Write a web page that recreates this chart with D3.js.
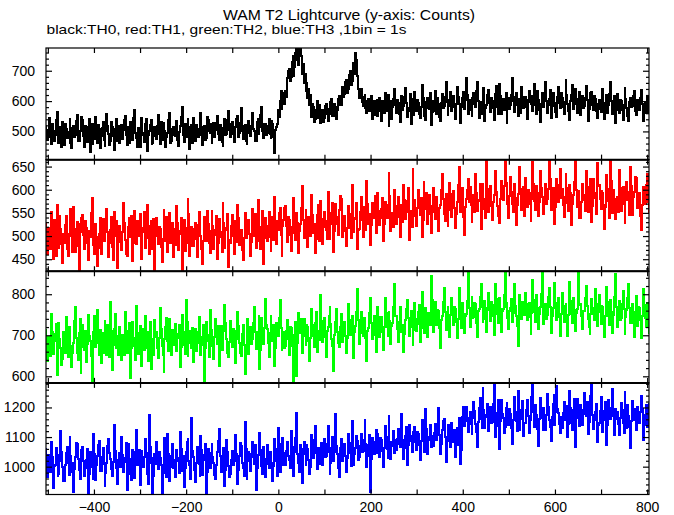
<!DOCTYPE html>
<html><head><meta charset="utf-8">
<script src="https://cdn.jsdelivr.net/npm/d3@7"></script>
<style>body{margin:0;background:#fff}svg{display:block}</style>
</head><body><svg id="c" width="674" height="515"></svg>
<script>
const titleText = "WAM T2 Lightcurve (y-axis: Counts)";
const subtitleText = "black:TH0, red:TH1, green:TH2, blue:TH3 ,1bin = 1s";
const timeStart = -504;
const binWidth = 2;
const xDomain = [-504, 804];
const xLabelTicks = [-400, -200, 0, 200, 400, 600, 800];
const xMinorStep = 100;

const th0 = [
519,488,471,506,544,480,457,523,503,470,487,538,565,495,463,515,498,450,531,485,
456,523,507,477,478,499,542,461,446,512,517,482,489,534,554,470,468,502,500,549,
536,486,449,517,496,465,514,540,431,491,525,459,476,508,549,475,462,521,507,445,
484,510,530,471,451,500,559,519,491,456,467,531,514,485,440,507,541,467,498,517,
461,499,520,476,504,536,552,489,455,515,486,462,532,506,471,545,571,494,479,450,
510,479,450,526,545,496,488,465,523,542,436,489,500,520,537,457,463,505,516,484,
475,518,555,493,459,531,506,472,528,501,447,482,496,539,560,461,469,508,513,487,
485,510,533,473,453,498,517,547,580,488,464,526,502,480,540,515,442,495,522,463,
545,504,470,522,508,483,487,535,561,496,456,515,518,472,479,547,538,501,494,526,
461,508,527,483,504,529,552,493,473,520,511,466,452,503,541,487,493,538,567,506,
483,523,532,493,464,510,513,541,552,481,495,528,577,503,474,518,520,469,457,502,
535,495,485,519,561,509,502,470,467,530,542,492,514,555,582,503,477,526,524,488,
495,517,541,492,479,533,526,482,430,506,514,523,570,548,600,632,575,612,625,590,
632,612,675,700,705,665,680,728,748,682,712,758,772,735,720,790,780,748,690,722,
660,690,632,660,610,640,588,620,548,590,580,530,540,572,600,545,560,588,528,566,
571,531,544,583,592,557,534,575,559,597,608,551,550,589,582,540,569,606,618,586,
615,588,645,615,622,662,668,628,640,685,698,652,665,712,725,688,758,735,682,640,
609,631,641,596,584,613,619,578,560,601,606,566,577,617,542,589,599,553,569,605,
552,590,611,568,534,600,593,561,628,584,568,619,519,577,601,541,579,608,640,587,
562,603,594,556,530,582,617,572,583,612,643,593,549,566,576,624,526,586,607,555,
631,591,566,604,593,559,545,580,652,611,584,551,538,597,611,576,575,626,521,565,
599,566,634,587,559,611,590,546,534,595,622,577,583,615,662,598,555,585,602,629,
567,600,616,579,542,592,647,612,591,560,529,581,610,631,574,605,677,620,558,589,
603,571,551,610,627,590,580,634,662,600,545,583,596,558,618,643,533,576,587,621,
636,595,563,610,599,578,539,587,622,651,582,556,655,616,557,591,606,571,574,626,
527,582,609,575,588,621,676,600,564,613,628,588,551,606,597,562,645,614,576,596,
615,580,542,603,633,596,589,618,568,587,656,607,556,632,604,572,531,591,625,584,
580,611,662,599,562,588,608,637,545,584,627,602,595,563,546,615,647,594,576,626,
610,579,558,597,668,619,589,566,537,600,621,652,573,590,639,607,562,586,601,631,
553,593,618,577,584,611,650,602,534,574,600,626,629,586,569,618,607,566,544,590,
603,574,565,610,640,593,540,581,619,561,588,623,662,600,558,589,592,616,529,571,
624,591,562,603,600,570,537,587,643,608,577,551,533,598,611,580,584,618,633,566,
553,583,604,574,571,610,635,592,533,572,593,562,614,589,562];

const th1 = [
528,492,462,517,508,471,552,500,450,535,493,456,567,512,474,543,515,482,442,504,
485,524,543,473,457,505,521,558,501,465,562,516,466,496,531,479,419,527,509,539,
546,502,471,533,517,486,448,511,498,550,582,520,481,461,527,497,436,475,505,540,
461,513,536,490,489,524,559,508,455,485,513,542,477,448,551,517,501,533,431,494,
521,488,470,509,571,529,492,461,458,520,539,497,508,544,446,485,555,515,482,532,
500,528,547,484,451,508,517,552,475,496,566,521,461,489,532,473,494,536,423,506,
539,500,482,519,515,477,443,493,556,525,490,542,465,509,550,485,505,529,454,497,
516,481,565,528,469,511,504,540,417,492,535,467,486,517,579,547,458,502,520,478,
478,515,529,493,455,523,551,504,500,471,440,489,542,525,489,555,525,484,463,511,
555,521,471,503,513,543,451,486,536,509,497,466,572,528,475,513,517,548,433,491,
484,521,545,500,461,533,525,488,568,539,480,511,512,469,449,495,550,519,496,535,
535,504,456,487,558,523,500,547,474,512,577,529,489,471,520,554,440,496,540,514,
490,522,552,499,467,541,528,492,584,515,482,532,513,550,560,503,456,521,534,561,
564,522,488,541,534,503,468,519,583,552,506,491,549,529,463,510,525,560,608,534,
496,531,557,513,477,542,536,500,588,546,506,525,463,494,546,568,518,490,575,537,
483,519,552,533,513,494,595,550,493,527,536,571,465,510,570,541,525,502,556,586,
581,543,498,528,544,510,479,517,564,548,518,496,610,558,508,537,539,572,473,514,
515,553,584,534,499,562,552,514,618,569,527,547,481,523,572,539,542,587,507,530,
592,554,523,539,558,583,489,526,574,549,538,568,637,587,510,543,549,520,600,565,
526,560,585,542,498,568,563,530,610,577,537,553,575,603,491,538,554,519,645,571,
577,544,521,560,599,567,546,583,498,535,616,573,558,592,527,548,588,564,507,552,
603,568,537,575,584,551,511,561,568,599,634,579,548,533,591,567,522,556,615,591,
542,579,597,560,518,547,574,610,649,585,553,570,603,541,503,562,579,599,623,573,
605,567,531,582,588,551,635,593,555,577,575,612,516,559,613,581,563,540,666,601,
551,585,607,564,535,574,588,613,640,595,564,543,528,581,619,589,577,607,670,615,
599,570,539,586,628,595,569,551,613,582,524,566,591,622,649,601,557,576,605,543,
625,589,563,600,593,569,533,581,659,612,575,556,609,592,544,574,640,604,585,566,
548,585,613,569,581,602,668,624,556,590,604,574,525,562,623,594,573,610,645,582,
601,568,542,585,634,603,572,554,611,592,523,569,588,616,668,599,562,580,597,539,
538,573,612,589,577,555,640,605,553,584,595,623,531,565,624,593,582,547,657,609,
610,580,558,598,594,568,515,562,631,602,575,540,663,619,550,585,600,571,536,581,
584,553,642,603,554,587,606,569,529,577,617,595,577,545,650,608,545,584,595,627,
625,590,560,580,593,544,514,566,605,586,570,610,634,574,552];

const th2 = [
713,669,637,696,695,650,752,707,655,686,703,727,602,665,730,690,668,627,643,709,
695,658,744,702,646,720,713,675,623,656,682,734,770,693,656,639,705,740,608,672,
724,689,663,710,636,679,749,698,686,649,586,665,709,747,671,700,762,682,651,713,
632,682,705,658,735,695,653,724,689,646,782,710,616,677,716,751,668,692,699,651,
719,679,639,701,684,652,757,711,658,691,707,730,596,670,732,694,674,639,771,705,
655,698,722,674,625,715,700,663,747,707,670,638,708,733,617,686,690,653,737,697,
707,669,644,693,767,716,674,651,611,690,719,743,687,662,739,698,652,714,700,677,
728,689,661,704,693,724,623,672,750,708,676,654,785,733,649,693,711,680,668,718,
634,679,715,661,682,707,745,698,652,677,697,725,588,668,732,700,686,648,761,712,
706,673,643,695,739,705,678,722,624,664,723,690,663,711,774,730,692,656,646,684,
735,697,672,715,711,665,632,690,757,722,681,656,649,702,726,677,606,672,702,740,
654,697,721,678,690,731,769,707,667,688,709,746,618,664,741,700,678,717,788,724,
716,681,647,705,748,693,686,726,626,668,730,700,699,742,787,717,664,688,709,670,
675,710,736,692,653,719,717,674,587,701,688,733,601,680,754,713,705,740,657,698,
739,701,676,724,720,686,638,693,763,725,699,672,731,757,659,708,711,689,798,735,
683,716,742,696,648,711,721,746,769,727,692,675,613,700,732,763,707,681,672,720,
753,714,683,730,733,698,656,693,777,737,701,722,746,683,644,707,723,757,812,736,
678,723,756,705,698,741,738,693,637,710,717,754,791,730,691,716,748,700,660,734,
768,728,695,745,744,707,665,719,790,754,719,699,756,735,678,723,731,770,825,747,
747,715,684,733,770,746,707,726,659,703,736,763,785,742,698,719,759,731,676,714,
778,740,710,728,756,773,684,718,805,750,726,705,767,735,696,754,745,724,844,785,
707,744,781,731,725,762,758,718,668,737,748,780,815,756,714,739,769,724,695,749,
791,751,724,769,765,732,693,739,816,772,741,717,779,753,706,748,753,784,852,766,
720,760,793,741,744,779,777,731,696,758,765,794,825,770,732,749,784,739,707,766,
803,762,735,780,773,747,700,751,826,789,752,731,790,763,709,758,763,797,854,770,
778,743,716,760,767,789,732,754,824,772,747,723,673,740,798,764,739,781,772,749,
804,765,738,776,779,744,702,755,834,785,757,733,797,766,715,751,768,801,854,778,
727,762,775,740,750,793,815,769,706,747,766,803,828,779,736,757,790,744,698,752,
803,764,732,772,777,743,698,749,830,784,753,730,791,761,711,754,765,799,852,774,
776,746,715,758,760,792,820,771,740,720,702,751,789,767,751,736,813,776,722,757,
798,760,728,772,769,739,695,748,818,780,746,725,786,756,706,749,759,793,850,769,
719,754,783,737,743,775,808,764,702,745,761,790,824,766,731,751,776,730,696,757,
796,758,723,770,767,736,693,747,813,774,742,721,779,753,705];

const th3 = [
1058,1011,964,1041,1023,981,1083,1032,928,1001,1006,1064,1039,967,974,1019,1121,1051,998,952,
952,1004,1047,1068,1011,971,1099,1036,981,1013,915,991,1032,1081,1076,1025,990,959,1016,1055,
1068,1020,969,995,1022,1061,906,976,1051,1012,999,960,1110,1044,956,1006,1036,1074,1088,985,
987,1033,1062,1009,935,980,1013,1071,1095,1046,1026,991,967,1016,1142,1054,997,964,942,1023,
1046,999,1100,1039,981,1015,1029,1079,922,974,1075,1026,1008,955,1055,1018,962,1050,1124,1005,
1020,1057,938,984,1053,1009,999,1034,1092,1047,974,943,1173,1065,1011,1029,908,969,1043,1008,
1082,1025,991,1050,1030,1004,911,978,1065,1096,1015,966,1111,1044,950,999,1037,1076,997,1022,
966,1012,1057,1030,1018,977,1118,1061,984,1037,932,997,1048,1083,1095,1020,1004,957,1163,1053,
1033,988,948,1013,1067,1043,1008,970,1102,1055,971,1023,1040,1078,908,981,1058,1018,995,1047,
1076,1032,1012,973,957,1006,1050,1086,1127,1037,981,1019,1025,1064,935,990,1089,1051,1002,964,
974,1023,1054,1005,1019,1064,1106,1043,941,990,1035,1081,1071,1014,995,970,1151,1058,958,1032,
1049,1019,985,1044,1084,1034,1009,1073,922,995,1040,1091,1115,1055,1002,975,1066,1026,965,1010,
1073,1032,994,1049,1042,1012,951,1003,1094,1061,1018,969,1131,1078,982,1029,1057,1098,1005,1045,
1004,1053,1082,1037,1023,994,1120,1068,970,1020,1050,1097,1181,1043,1013,981,1072,1032,945,1060,
1083,1042,1006,1073,1058,1023,975,999,1107,1053,1028,1091,1136,1046,993,1034,1062,1010,1018,1079,
1007,1058,1093,1032,1037,1077,1139,1048,976,1013,1063,1101,1020,1051,1179,1069,1044,997,965,1062,
1094,1051,1020,1068,1075,1035,981,1028,1110,1080,1047,1003,1153,1062,1007,1044,1063,1103,1087,1024,
1033,1070,1111,1049,1052,1090,1157,1075,999,1037,1073,1108,916,1027,1098,1061,1044,1082,1124,1045,
1111,1075,1034,1096,1089,1052,999,1064,1136,1101,1059,1029,1170,1085,1026,1069,1082,1120,1047,1090,
1055,1095,1128,1076,1065,1110,1177,1089,1025,1064,1103,1135,1006,1072,1141,1102,1088,1048,1118,1083,
1133,1096,1056,1117,1109,1074,1022,1086,1156,1112,1079,1049,1194,1127,1043,1089,1100,1140,1065,1105,
1071,1115,1143,1095,1091,1132,1197,1108,1042,1078,1123,1153,1161,1101,1015,1088,1111,1140,1136,1067,
1146,1110,1085,1125,1033,1095,1130,1072,1166,1118,1009,1057,1169,1200,1137,1176,1203,1155,1117,1166,
1184,1145,1112,1163,1219,1189,1144,1117,1068,1152,1197,1232,1162,1130,1266,1193,1131,1169,1175,1210,
1121,1172,1201,1148,1152,1212,1290,1182,1100,1138,1180,1224,1060,1155,1224,1177,1165,1114,1133,1198,
1214,1168,1142,1194,1177,1131,1078,1156,1236,1184,1155,1119,1257,1204,1124,1161,1190,1221,1103,1149,
1147,1191,1225,1170,1114,1158,1196,1235,1289,1183,1135,1208,1173,1128,1070,1162,1232,1187,1166,1123,
1198,1155,1123,1175,1246,1201,1159,1134,1088,1168,1210,1242,1141,1186,1272,1194,1180,1145,1114,1169,
1131,1182,1217,1156,1168,1205,1099,1144,1257,1197,1149,1124,1193,1229,1065,1163,1228,1184,1176,1137,
1208,1163,1140,1190,1250,1179,1170,1217,1109,1152,1200,1239,1290,1173,1127,1159,1184,1210,1082,1142,
1149,1187,1234,1167,1118,1157,1189,1220,1072,1140,1224,1177,1161,1199,1264,1170,1135,1108,1195,1160,
1183,1145,1106,1164,1214,1190,1147,1115,1253,1182,1131,1207,1172,1134,1063,1155,1221,1175,1157,1194,
1123,1163,1200,1154,1147,1183,1239,1194,1089,1142,1176,1207,1135,1169,1212];

const seriesNames = ["TH0", "TH1", "TH2", "TH3"];
const seriesColors = ["#000000", "#ff0000", "#00ff00", "#0000ff"];
const yDomains = [[407, 775], [424, 665], [584, 856], [906, 1283]];
const yLabelTicks = [[500, 600, 700], [450, 500, 550, 600, 650], [600, 700, 800], [1000, 1100, 1200]];
const yMinorSteps = [20, 10, 20, 20];

const FONT = '"Liberation Sans", Arial, Helvetica, sans-serif';
const svg = d3.select("#c");
const L = 46, R = 649, T = 48, B = 494.5;
const pH = (B - T) / 4;
const x = d3.scaleLinear().domain(xDomain).range([L, R]);
const xMinor = d3.range(Math.ceil(xDomain[0] / xMinorStep) * xMinorStep, xDomain[1] + 1, xMinorStep);
const series = [th0, th1, th2, th3];

function styleAxis(g) {
  g.select(".domain").remove();
  g.selectAll("line").attr("stroke", "#000").attr("stroke-width", 1.2);
  g.attr("font-family", FONT).attr("font-size", 14);
  g.selectAll("text").attr("fill", "#000");
}

series.forEach((vals, i) => {
  const y0 = T + i * pH;
  const y = d3.scaleLinear().domain(yDomains[i]).range([y0 + pH, y0]);
  const clipId = "clip" + i;
  svg.append("clipPath").attr("id", clipId).append("rect")
    .attr("x", L).attr("y", y0).attr("width", R - L).attr("height", pH);
  const line = d3.line()
    .x((d, j) => x(timeStart + j * binWidth))
    .y(d => y(d))
    .curve(d3.curveStep);
  svg.append("path").datum(vals)
    .attr("class", "series-" + seriesNames[i])
    .attr("clip-path", `url(#${clipId})`)
    .attr("fill", "none")
    .attr("stroke", seriesColors[i])
    .attr("stroke-width", 2)
    .attr("shape-rendering", "crispEdges")
    .attr("d", line);

  svg.append("g").attr("transform", `translate(0,${y0 + pH})`)
    .call(d3.axisTop(x).tickValues(xMinor).tickSize(5).tickFormat(""))
    .call(styleAxis);
  svg.append("g").attr("transform", `translate(0,${y0})`)
    .call(d3.axisBottom(x).tickValues(xMinor).tickSize(5).tickFormat(""))
    .call(styleAxis);

  const st = yMinorSteps[i];
  const minor = d3.range(Math.ceil(yDomains[i][0] / st) * st, yDomains[i][1], st)
    .filter(v => !yLabelTicks[i].includes(v));
  svg.append("g").attr("transform", `translate(${L},0)`)
    .call(d3.axisLeft(y).tickValues(minor).tickSize(-3).tickFormat(""))
    .call(styleAxis);
  svg.append("g").attr("transform", `translate(${R},0)`)
    .call(d3.axisLeft(y).tickValues(minor).tickSize(3).tickFormat(""))
    .call(styleAxis);
  svg.append("g").attr("transform", `translate(${L},0)`)
    .call(d3.axisLeft(y).tickValues(yLabelTicks[i]).tickSize(-6).tickPadding(11).tickFormat(d3.format("d")))
    .call(styleAxis);
  svg.append("g").attr("transform", `translate(${R},0)`)
    .call(d3.axisLeft(y).tickValues(yLabelTicks[i]).tickSize(6).tickFormat(""))
    .call(styleAxis);

  svg.append("rect").attr("x", L).attr("y", y0).attr("width", R - L).attr("height", pH)
    .attr("fill", "none").attr("stroke", "#000").attr("stroke-width", 1.2);
  if (i > 0) {
    svg.append("line").attr("x1", L).attr("x2", R).attr("y1", y0).attr("y2", y0)
      .attr("stroke", "#000").attr("stroke-width", 2);
  }
});

svg.append("g").attr("transform", `translate(0,${B})`)
  .call(d3.axisBottom(x).tickValues(xLabelTicks).tickSize(0).tickPadding(7.5).tickFormat(d3.format("d")))
  .call(styleAxis);

svg.append("text").attr("x", 349).attr("y", 20)
  .attr("text-anchor", "middle").attr("font-family", FONT).attr("font-size", 14)
  .attr("textLength", 252).attr("lengthAdjust", "spacingAndGlyphs")
  .text(titleText);
svg.append("text").attr("x", 46.5).attr("y", 34)
  .attr("font-family", FONT).attr("font-size", 13.5)
  .attr("textLength", 360).attr("lengthAdjust", "spacingAndGlyphs")
  .text(subtitleText);
</script>
</body></html>
